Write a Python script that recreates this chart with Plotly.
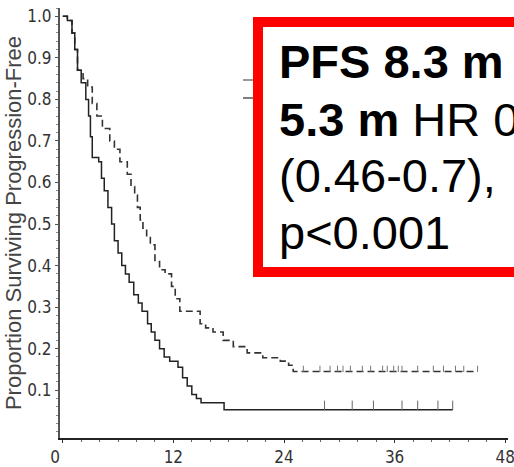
import plotly.graph_objects as go

# Kaplan-Meier step data (months, proportion progression-free)
ctrl_t = [0, 0.5, 1.0, 1.3, 1.6, 2.0, 2.5, 2.8, 3.0, 3.2, 3.9, 4.2, 4.5, 4.9, 5.3, 5.6, 6.0, 6.4,
          6.8, 7.2, 7.7, 8.2, 8.6, 9.2, 9.6, 10.0, 10.5, 11.0, 11.6, 12.5, 13.0, 13.5, 14.0, 14.5,
          15.0, 17.5, 42.3]
ctrl_s = [1.0, 0.99, 0.96, 0.92, 0.87, 0.84, 0.80, 0.76, 0.71, 0.66, 0.65, 0.61, 0.58, 0.54, 0.50,
          0.46, 0.43, 0.40, 0.38, 0.36, 0.33, 0.31, 0.29, 0.26, 0.24, 0.22, 0.20, 0.18, 0.17, 0.155,
          0.13, 0.11, 0.09, 0.08, 0.07, 0.053, 0.053]

trt_t = [0, 0.5, 1.0, 1.3, 1.6, 2.2, 2.7, 3.2, 3.7, 4.3, 5.1, 5.6, 6.2, 7.0, 7.4, 7.8, 8.1, 8.4,
         8.7, 9.1, 9.5, 10.0, 10.5, 11.1, 11.8, 12.2, 12.7, 14.9, 15.5, 16.3, 17.4, 18.5, 20.0,
         21.7, 23.6, 24.5, 25.0, 45.0]
trt_s = [1.0, 0.99, 0.96, 0.92, 0.87, 0.85, 0.83, 0.79, 0.76, 0.73, 0.70, 0.68, 0.65, 0.62, 0.59,
         0.57, 0.54, 0.51, 0.49, 0.47, 0.45, 0.41, 0.39, 0.38, 0.35, 0.32, 0.29, 0.26, 0.25, 0.24,
         0.22, 0.205, 0.19, 0.178, 0.17, 0.16, 0.145, 0.145]

ctrl_cens_t = [28.4, 31.4, 33.7, 36.8, 38.5, 40.7, 42.3]
ctrl_cens_s = 0.053
trt_cens_t = [26.1, 27.9, 29.0, 29.8, 30.4, 31.2, 32.5, 33.4, 34.7, 35.2, 35.9, 36.4, 36.8, 38.5,
              40.2, 41.3, 42.6, 43.5, 45.0]
trt_cens_s = 0.145

x_ticks = [0, 12, 24, 36, 48]
x_ticktext = ["0\u2002\u2002", "12", "24", "36", "48"]
y_ticks = [0.1, 0.2, 0.3, 0.4, 0.5, 0.6, 0.7, 0.8, 0.9, 1.0]
y_ticktext = ["0.1", "0.2", "0.3", "0.4", "0.5", "0.6", "0.7", "0.8", "0.9", "1.0"]

y_title = "Proportion Surviving Progression-Free"
box_lines = ["<b>PFS 8.3 m</b>", "<b>5.3 m</b> HR 0.57", "(0.46-0.7),", "p&lt;0.001"]

narrow = "Liberation Sans Narrow, Arial Narrow, DejaVu Sans Condensed, sans-serif"

# figure geometry (pixels) used to place the overlay box in paper coordinates
W, H = 514, 467
ML, MR, MT, MB = 60, 6, 8, 29
PW, PH = W - ML - MR, H - MT - MB


def px_x(px):
    return (px - ML) / PW


def px_y(py):
    return 1 - (py - MT) / PH


fig = go.Figure()
fig.add_trace(go.Scatter(x=trt_t, y=trt_s, mode="lines", line_shape="hv", name="Treatment",
                         showlegend=False,
                         line=dict(color="#333333", width=1.6, dash="7px,4px")))
fig.add_trace(go.Scatter(x=ctrl_t, y=ctrl_s, mode="lines", line_shape="hv", name="Control",
                         showlegend=False,
                         line=dict(color="#222222", width=1.5)))
fig.add_trace(go.Scatter(x=trt_cens_t, y=[trt_cens_s] * len(trt_cens_t), mode="markers",
                         marker=dict(size=1, color="#666666"), showlegend=False,
                         error_y=dict(type="data", symmetric=False, array=[0.014] * len(trt_cens_t),
                                      arrayminus=[0] * len(trt_cens_t), width=0, thickness=1,
                                      color="#777777")))
fig.add_trace(go.Scatter(x=ctrl_cens_t, y=[ctrl_cens_s] * len(ctrl_cens_t), mode="markers",
                         marker=dict(size=1, color="#666666"), showlegend=False,
                         error_y=dict(type="data", symmetric=False, array=[0.022] * len(ctrl_cens_t),
                                      arrayminus=[0] * len(ctrl_cens_t), width=0, thickness=1,
                                      color="#666666")))

# legend keys (their labels are hidden behind the box in the original)
fig.add_shape(type="line", xref="paper", yref="paper", x0=px_x(243), x1=px_x(258),
              y0=px_y(80), y1=px_y(80), line=dict(color="#777777", width=1.5))
fig.add_shape(type="line", xref="paper", yref="paper", x0=px_x(243), x1=px_x(258),
              y0=px_y(98), y1=px_y(98), line=dict(color="#555555", width=1.5))

# red framed text box (runs off the right edge like the original)
fig.add_shape(type="rect", xref="paper", yref="paper", layer="above",
              x0=px_x(258), x1=px_x(545), y0=px_y(272), y1=px_y(22),
              line=dict(color="#ff0000", width=10), fillcolor="white")

line_centres = [61, 119, 175, 232]
for txt, cy in zip(box_lines, line_centres):
    fig.add_annotation(xref="paper", yref="paper", x=px_x(277), y=px_y(cy), xanchor="left",
                       yanchor="middle", text=txt, align="left", showarrow=False,
                       font=dict(family="Liberation Sans, Arial, sans-serif", size=47,
                                 color="black"))

fig.update_layout(
    width=W, height=H,
    margin=dict(l=ML, r=MR, t=MT, b=MB, autoexpand=False),
    paper_bgcolor="white", plot_bgcolor="white",
    showlegend=False,
    xaxis=dict(range=[-0.3, 48.3], tickvals=x_ticks, ticktext=x_ticktext, showgrid=False,
               zeroline=False, automargin=False,
               showline=True, linecolor="#222", linewidth=1.5, ticks="outside", ticklen=3,
               tickcolor="#333", tickfont=dict(family=narrow, size=17, color="#333"),
               ticklabeloverflow="allow",
               minor=dict(dtick=2, tick0=0, ticks="outside", ticklen=2, tickcolor="#666")),
    yaxis=dict(range=[-0.015, 1.02], tickvals=y_ticks, ticktext=y_ticktext, showgrid=False,
               automargin=False,
               zeroline=False, showline=True, linecolor="#555", linewidth=2, ticks="outside",
               ticklen=3, tickcolor="#555", tickfont=dict(family=narrow, size=17, color="#333"),
               minor=dict(dtick=0.02, tick0=0, ticks="outside", ticklen=2, tickcolor="#888"),
               title=dict(text=y_title, standoff=0,
                          font=dict(family="Liberation Sans, Arial, sans-serif", size=22,
                                    color="#444"))),
)

fig.write_html("out.html", config={"displayModeBar": False},
               post_script="document.body.style.margin='0';")
